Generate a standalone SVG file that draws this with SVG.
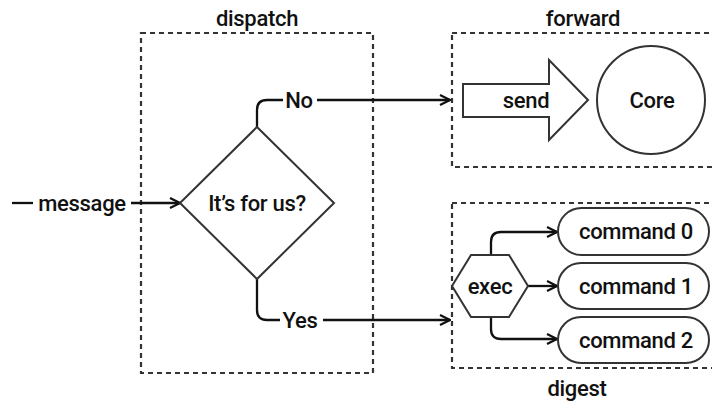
<svg xmlns="http://www.w3.org/2000/svg" width="712" height="402" viewBox="0 0 712 402">
  <defs>
    <style>
      text { font-family: Roboto, "Liberation Sans", sans-serif; font-size: 22px; font-weight: 500; letter-spacing: -0.3px; fill: #111; dominant-baseline: central; text-anchor: middle; }
      .group { fill: none; stroke: #333; stroke-width: 2.2; stroke-dasharray: 5 4; }
      .shape { fill: #fff; stroke: #333; stroke-width: 2; }
      .edge { fill: none; stroke: #111; stroke-width: 2.3; }
      .arrow { marker-end: url(#chevron); }
    </style>
    <marker id="chevron" viewBox="0 0 12 12" refX="11" refY="6" markerWidth="12" markerHeight="12" markerUnits="userSpaceOnUse" orient="auto">
      <path d="M1,1 L11,6 L1,11" fill="none" stroke="#111" stroke-width="2.2"/>
    </marker>
  </defs>

  <!-- clusters -->
  <g id="dispatch">
    <rect class="group" x="141" y="33" width="232" height="340"/>
    <text x="257" y="18">dispatch</text>
  </g>
  <g id="forward">
    <rect class="group" x="452" y="33" width="270" height="134"/>
    <text x="583" y="18">forward</text>
  </g>
  <g id="digest">
    <rect class="group" x="452" y="203" width="270" height="165"/>
    <text x="577" y="388">digest</text>
  </g>

  <!-- connectors -->
  <g id="connectors">
    <path class="edge" d="M12,203 H33"/>
    <text x="82" y="203">message</text>
    <path class="edge arrow" d="M131,203 H180"/>

    <path class="edge" d="M257,127 V110 Q257,100 267,100 H283"/>
    <text x="299" y="100">No</text>
    <path class="edge arrow" d="M317,100 H450"/>

    <path class="edge" d="M257,279 V310 Q257,320 267,320 H280"/>
    <text x="300" y="320">Yes</text>
    <path class="edge arrow" d="M323,320 H450"/>

    <path class="edge arrow" d="M491,255 V242 Q491,232 501,232 H557"/>
    <path class="edge arrow" d="M528,286 H557"/>
    <path class="edge arrow" d="M491,317 V329 Q491,339 501,339 H557"/>
  </g>

  <!-- nodes -->
  <g id="decision">
    <polygon class="shape" points="257,127 334,203 257,279 180,203"/>
    <text x="257" y="203">It’s for us?</text>
  </g>
  <g id="send">
    <polygon class="shape" points="463,84 549,84 549,60 588,100 549,140 549,117 463,117"/>
    <text x="526" y="100">send</text>
  </g>
  <g id="core">
    <circle class="shape" cx="651" cy="100" r="54"/>
    <text x="652" y="100">Core</text>
  </g>
  <g id="exec">
    <polygon class="shape" points="452,286 471,255 509,255 528,286 509,317 471,317"/>
    <text x="490" y="286">exec</text>
  </g>
  <g id="command0">
    <rect class="shape" x="558" y="208" width="151" height="47" rx="23.5"/>
    <text x="636" y="231">command 0</text>
  </g>
  <g id="command1">
    <rect class="shape" x="558" y="263" width="151" height="46" rx="23"/>
    <text x="636" y="286">command 1</text>
  </g>
  <g id="command2">
    <rect class="shape" x="558" y="317" width="151" height="46" rx="23"/>
    <text x="636" y="340">command 2</text>
  </g>
</svg>
